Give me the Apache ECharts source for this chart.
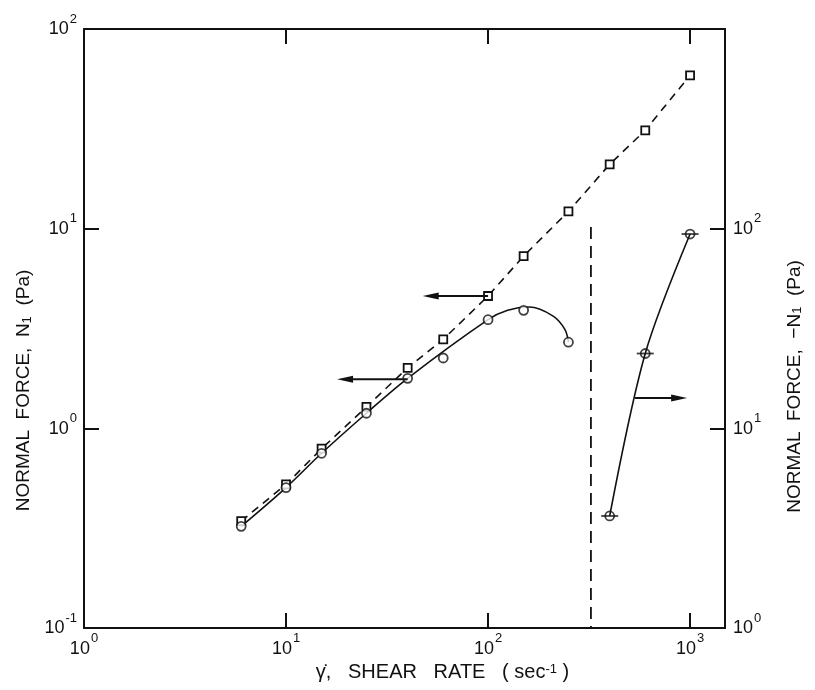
<!DOCTYPE html>
<html>
<head>
<meta charset="utf-8">
<script src="https://cdn.jsdelivr.net/npm/echarts@6/dist/echarts.min.js"></script>
<style>
html,body{margin:0;padding:0;background:#fff;}
#chart{width:815px;height:690px;}
</style>
</head>
<body>
<div id="chart"></div>
<script>
// Shear rate (1/s) for the square series (N1, dashed line)
const squareRate = [6, 10, 15, 25, 40, 60, 100, 150, 250, 400, 600, 1000];
const squareN1 = [0.343, 0.524, 0.791, 1.28, 2.01, 2.79, 4.60, 7.29, 12.2, 21.0, 31.1, 58.6];

// Circle series (N1, solid curve)
const circleRate = [6, 10, 15, 25, 40, 60, 100, 150, 250];
const circleN1 = [0.323, 0.505, 0.75, 1.19, 1.78, 2.25, 3.50, 3.90, 2.70];

// Hand-drawn smooth curve through the circle data
const curveRate = [6, 10, 15, 25, 40, 100, 125, 160, 210, 240, 250];
const curveN1 = [0.323, 0.505, 0.75, 1.19, 1.78, 3.50, 3.90, 4.05, 3.65, 3.13, 2.70];

// Negative normal force (-N1), right axis
const negRate = [400, 600, 1000];
const negN1 = [3.64, 23.7, 94];

// Onset shear rate marked by the vertical dashed line (spans N1 0.1 .. 10.2)
const onsetRate = [323, 323];
const onsetN1 = [10.2, 0.1];

// Axis-pointer arrows: [shear rate, force] from tail to head
const arrowSquares = [[100, 4.6], [52, 4.6]];
const arrowCircles = [[40, 1.76], [19.6, 1.76]];
const arrowNeg = [[534, 14.2], [883, 14.2]];

const FONT = 'Liberation Sans';
const black = '#111';

function pairs(xs, ys) { return xs.map((x, i) => [x, ys[i]]); }

function powLabel(v) {
  const k = Math.log10(v);
  const r = Math.round(k);
  if (Math.abs(k - r) > 1e-6) return '';
  return '{b|10}{p|' + r + '}';
}

// Exponent token carries bottom padding so it sits above the "10"
const labelRich = {
  b: { fontSize: 18, fontFamily: FONT, color: black, verticalAlign: 'bottom' },
  p: { fontSize: 13, fontFamily: FONT, color: black, verticalAlign: 'top', padding: [0, 0, 13, 1] }
};

const nameRich = {
  t: { fontSize: 19, fontFamily: FONT, color: black },
  w: { fontSize: 20, fontFamily: FONT, color: black },
  s: { fontSize: 13, fontFamily: FONT, color: black, verticalAlign: 'bottom' },
  u: { fontSize: 13, fontFamily: FONT, color: black, verticalAlign: 'top' }
};

const axisLine = { show: true, lineStyle: { color: black, width: 2 } };
const axisTick = { show: true, inside: true, length: 15, lineStyle: { color: black, width: 2 } };

const arrowLeft = 'path://M0,5 L16,0 L16,10 Z';
const arrowRight = 'path://M16,5 L0,0 L0,10 Z';

function arrowSeries(points, yAxisIndex, head) {
  return {
    type: 'line',
    xAxisIndex: 0, yAxisIndex,
    data: [
      { value: points[0], symbol: 'none' },
      { value: points[1], symbol: head, symbolSize: [16, 7] }
    ],
    lineStyle: { color: black, width: 2 },
    itemStyle: { color: black, borderWidth: 0 },
    silent: true,
    z: 5
  };
}

const option = {
  backgroundColor: '#fff',
  animation: false,
  grid: { left: 84, right: 90, top: 29, bottom: 62 },
  xAxis: [
    {
      type: 'log', min: 1, max: 1489, position: 'bottom',
      axisLine, axisTick, splitLine: { show: false },
      axisLabel: { formatter: powLabel, rich: labelRich, margin: 4, showMaxLabel: false },
      name: '{w|γ̇,   SHEAR   RATE   ( sec}{u|-1}{w| )}',
      nameLocation: 'middle', nameGap: 33,
      nameTextStyle: { rich: nameRich, padding: [0, 0, 0, 76] }
    },
    {
      type: 'log', min: 1, max: 1489, position: 'top',
      axisLine, axisTick, splitLine: { show: false },
      axisLabel: { show: false }
    }
  ],
  yAxis: [
    {
      type: 'log', min: 0.1, max: 100, position: 'left',
      axisLine, axisTick, splitLine: { show: false },
      axisLabel: { formatter: powLabel, rich: labelRich, margin: 7, padding: [0, 0, 7, 0] },
      name: '{t|NORMAL  FORCE,  N}{s|1}{t|  (Pa)}',
      nameLocation: 'middle', nameGap: 50, nameRotate: 90,
      nameTextStyle: { rich: nameRich, padding: [0, 124, 0, 0] }
    },
    {
      type: 'log', min: 1, max: 1000, position: 'right',
      axisLine, axisTick, splitLine: { show: false },
      axisLabel: {
        formatter: v => (v >= 999 ? '' : powLabel(v)),
        rich: labelRich, margin: 8, padding: [0, 0, 7, 0]
      },
      name: '{t|NORMAL  FORCE,  −N}{s|1}{t|  (Pa)}',
      nameLocation: 'middle', nameGap: 60, nameRotate: 90,
      nameTextStyle: { rich: nameRich, padding: [0, 116, 0, 0] }
    }
  ],
  series: [
    {
      name: 'N1 squares',
      type: 'line',
      data: pairs(squareRate, squareN1),
      xAxisIndex: 0, yAxisIndex: 0,
      symbol: 'rect', symbolSize: 8,
      itemStyle: { color: '#fff', borderColor: black, borderWidth: 1.8 },
      lineStyle: { color: black, width: 1.6, type: [8, 6] },
      z: 3
    },
    {
      name: 'N1 curve',
      type: 'line',
      data: pairs(curveRate, curveN1),
      xAxisIndex: 0, yAxisIndex: 0,
      symbol: 'none', smooth: 0.35,
      lineStyle: { color: black, width: 1.6 },
      z: 2
    },
    {
      name: 'N1 circles',
      type: 'scatter',
      data: pairs(circleRate, circleN1),
      xAxisIndex: 0, yAxisIndex: 0,
      symbol: 'circle', symbolSize: 9,
      itemStyle: { color: '#fff', borderColor: black, borderWidth: 1.8 },
      z: 4
    },
    {
      name: 'onset',
      type: 'line',
      data: pairs(onsetRate, onsetN1),
      xAxisIndex: 0, yAxisIndex: 0,
      symbol: 'none',
      lineStyle: { color: black, width: 1.8, type: [12, 7] },
      silent: true,
      z: 1
    },
    {
      name: '-N1 curve',
      type: 'line',
      data: pairs(negRate, negN1),
      xAxisIndex: 0, yAxisIndex: 1,
      symbol: 'none', smooth: 0.3,
      lineStyle: { color: black, width: 1.6 },
      z: 2
    },
    {
      name: '-N1 bars',
      type: 'scatter',
      data: pairs(negRate, negN1),
      xAxisIndex: 0, yAxisIndex: 1,
      symbol: 'rect', symbolSize: [17, 1.8],
      itemStyle: { color: black },
      z: 3
    },
    {
      name: '-N1 circles',
      type: 'scatter',
      data: pairs(negRate, negN1),
      xAxisIndex: 0, yAxisIndex: 1,
      symbol: 'circle', symbolSize: 9,
      itemStyle: { color: 'rgba(255,255,255,0)', borderColor: black, borderWidth: 1.8 },
      z: 4
    },
    arrowSeries(arrowSquares, 0, arrowLeft),
    arrowSeries(arrowCircles, 0, arrowLeft),
    arrowSeries(arrowNeg, 1, arrowRight)
  ]
};

const chart = echarts.init(document.getElementById('chart'), null, { renderer: 'canvas' });
chart.setOption(option);
</script>
</body>
</html>
